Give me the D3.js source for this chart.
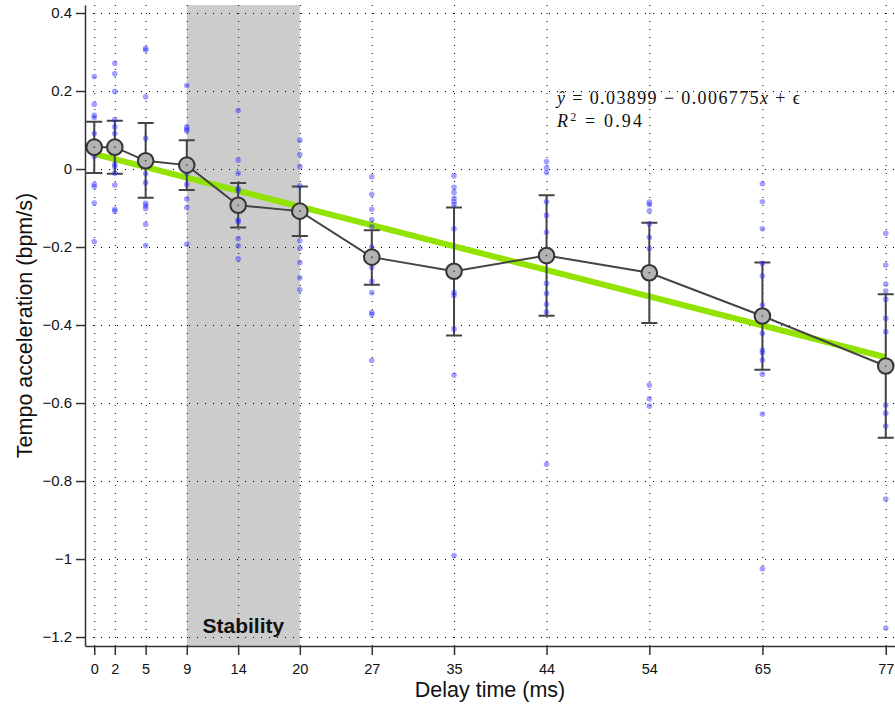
<!DOCTYPE html>
<html>
<head>
<meta charset="utf-8">
<script src="https://cdn.jsdelivr.net/npm/d3@7"></script>
<style>
  body { margin: 0; background: #fff; }
</style>
</head>
<body>
<div class="chart"></div>
<script>
// delay conditions (ms)
const delays = [0, 2, 5, 9, 14, 20, 27, 35, 44, 54, 65, 77];

// mean tempo acceleration per delay, with error bar ends
const meanAcc = [0.056, 0.056, 0.021, 0.010, -0.093, -0.108, -0.226, -0.262, -0.222, -0.266, -0.377, -0.505];
const errUpper = [0.121, 0.124, 0.118, 0.074, -0.036, -0.045, -0.157, -0.099, -0.067, -0.138, -0.240, -0.321];
const errLower = [-0.010, -0.012, -0.074, -0.054, -0.150, -0.172, -0.297, -0.427, -0.376, -0.395, -0.515, -0.689];

// single trials, one list per delay
const trialAcc = [
    [0.237, 0.166, 0.138, 0.132, 0.091, 0.032, -0.039, -0.045, -0.087, -0.186],
    [0.271, 0.244, 0.199, 0.127, 0.108, 0.091, 0.013, 0.006, -0.011, -0.041, -0.103, -0.108],
    [0.309, 0.305, 0.185, 0.079, -0.012, -0.035, -0.088, -0.094, -0.101, -0.142, -0.196],
    [0.214, 0.108, 0.102, 0.098, -0.011, -0.039, -0.077, -0.099, -0.193],
    [0.150, 0.023, -0.011, -0.050, -0.056, -0.131, -0.135, -0.178, -0.197, -0.230],
    [0.074, 0.037, 0.006, -0.043, -0.184, -0.203, -0.240, -0.279, -0.310],
    [-0.020, -0.065, -0.103, -0.130, -0.148, -0.200, -0.252, -0.288, -0.317, -0.368, -0.373, -0.491],
    [-0.017, -0.047, -0.060, -0.075, -0.084, -0.091, -0.153, -0.317, -0.324, -0.410, -0.528, -0.991],
    [0.019, 0.003, -0.009, -0.084, -0.119, -0.162, -0.293, -0.319, -0.347, -0.367, -0.757],
    [-0.085, -0.091, -0.107, -0.141, -0.175, -0.204, -0.554, -0.589, -0.608],
    [-0.038, -0.084, -0.153, -0.242, -0.274, -0.349, -0.421, -0.464, -0.471, -0.490, -0.526, -0.628, -1.025],
    [-0.165, -0.246, -0.295, -0.313, -0.334, -0.383, -0.417, -0.605, -0.626, -0.659, -0.846, -1.177]
];

const yTicks = [0.4, 0.2, 0, -0.2, -0.4, -0.6, -0.8, -1, -1.2];
const stabilityRange = [9, 20];
const fitIntercept = 0.03899;
const fitSlope = -0.006775;
const fitR2 = 0.94;

const sans = '"Liberation Sans", Arial, sans-serif';
const serif = '"Liberation Serif", "DejaVu Serif", serif';

const outerWidth = 895;
const outerHeight = 707;
const margin = {top: 5, right: 0, bottom: 61, left: 85};
const width = outerWidth - margin.left - margin.right;
const height = outerHeight - margin.top - margin.bottom;

const svg = d3.select('.chart').append('svg')
    .attr('width', outerWidth)
    .attr('height', outerHeight)
    .attr('font-family', sans)
    .append('g')
    .attr('transform', 'translate(' + margin.left + ',' + margin.top + ')');

const x = d3.scaleLinear().domain([-0.9, 77.9]).range([0, width]);
const y = d3.scaleLinear().domain([-1.223, 0.4205]).range([height, 0]);

// stability region
svg.append('rect')
    .attr('x', x(stabilityRange[0]))
    .attr('y', 0)
    .attr('width', x(stabilityRange[1]) - x(stabilityRange[0]))
    .attr('height', height)
    .attr('fill', '#cccccc');

// dotted grid
const grid = svg.append('g')
    .attr('stroke', '#000')
    .attr('stroke-width', 1)
    .attr('stroke-dasharray', '1,7');
grid.selectAll('.vg').data(delays).join('line')
    .attr('x1', d => x(d) + 0.5).attr('x2', d => x(d) + 0.5)
    .attr('y1', 0).attr('y2', height);
grid.selectAll('.hg').data(yTicks).join('line')
    .attr('x1', 0).attr('x2', width)
    .attr('y1', d => Math.round(y(d)) + 0.5).attr('y2', d => Math.round(y(d)) + 0.5);

// regression line
svg.append('line')
    .attr('x1', x(0)).attr('y1', y(fitIntercept))
    .attr('x2', x(77)).attr('y2', y(fitIntercept + fitSlope * 77))
    .attr('stroke', '#92e300')
    .attr('stroke-width', 6);

const summary = delays.map((d, i) => ({d: d, m: meanAcc[i], hi: errUpper[i], lo: errLower[i]}));

// error bars
const bars = svg.append('g').attr('stroke', '#444').attr('stroke-width', 2).attr('fill', 'none');
bars.selectAll('.eb').data(summary).join('path')
    .attr('d', s => {
        const cx = x(s.d), w = 8;
        return 'M' + cx + ',' + y(s.hi) + 'V' + y(s.lo)
            + 'M' + (cx - w) + ',' + y(s.hi) + 'H' + (cx + w)
            + 'M' + (cx - w) + ',' + y(s.lo) + 'H' + (cx + w);
    });

// single trials
const trials = [];
delays.forEach((d, i) => trialAcc[i].forEach(v => trials.push({d: d, v: v})));
svg.append('g').selectAll('circle').data(trials).join('circle')
    .attr('cx', t => x(t.d))
    .attr('cy', t => y(t.v))
    .attr('r', 2.8)
    .attr('fill', 'rgba(30,30,255,0.42)');

// mean line
svg.append('path')
    .datum(summary)
    .attr('fill', 'none')
    .attr('stroke', '#444')
    .attr('stroke-width', 2)
    .attr('d', d3.line().x(s => x(s.d)).y(s => y(s.m)));

svg.append('g').selectAll('circle').data(summary).join('circle')
    .attr('cx', s => x(s.d))
    .attr('cy', s => y(s.m))
    .attr('r', 7.8)
    .attr('fill', '#b3b3b3')
    .attr('stroke', '#333')
    .attr('stroke-width', 2);
svg.append('g').selectAll('circle').data(summary).join('circle')
    .attr('cx', s => x(s.d))
    .attr('cy', s => y(s.m))
    .attr('r', 0.8)
    .attr('fill', '#333');

// axes
const yAxis = svg.append('g')
    .call(d3.axisLeft(y).tickValues(yTicks).tickSize(9).tickSizeOuter(0).tickPadding(4)
        .tickFormat(d3.format('~g')));
const xAxis = svg.append('g')
    .attr('transform', 'translate(0,' + height + ')')
    .call(d3.axisBottom(x).tickValues(delays).tickSize(9).tickSizeOuter(0).tickPadding(9));
[xAxis, yAxis].forEach(a => {
    a.selectAll('path, line').attr('stroke', '#333').attr('stroke-width', 1.5);
    a.selectAll('text').attr('font-size', 14.5).attr('fill', '#111').attr('font-family', sans);
});
yAxis.selectAll('text').attr('font-size', 15);

// labels
svg.append('text')
    .attr('x', x((stabilityRange[0] + stabilityRange[1]) / 2))
    .attr('y', 628)
    .attr('text-anchor', 'middle')
    .attr('font-weight', 'bold')
    .attr('font-size', 21)
    .attr('fill', '#111')
    .text('Stability');

svg.append('text')
    .attr('x', width / 2)
    .attr('y', 692)
    .attr('text-anchor', 'middle')
    .attr('font-size', 21.5)
    .attr('fill', '#111')
    .text('Delay time (ms)');

svg.append('text')
    .attr('transform', 'translate(' + (-53) + ',' + (height / 2) + ') rotate(-90)')
    .attr('text-anchor', 'middle')
    .attr('font-size', 21.5)
    .attr('fill', '#111')
    .text('Tempo acceleration (bpm/s)');

// fit annotation
const note = svg.append('g')
    .attr('font-family', serif)
    .attr('font-size', 18)
    .attr('fill', '#111');
const line1 = note.append('text').attr('x', 472).attr('y', 99)
    .attr('textLength', 243).attr('lengthAdjust', 'spacing');
line1.append('tspan').attr('font-style', 'italic').text('ŷ');
line1.append('tspan').text(' = ' + fitIntercept + ' − ' + Math.abs(fitSlope));
line1.append('tspan').attr('font-style', 'italic').text('x');
line1.append('tspan').text(' + ϵ');
const line2 = note.append('text').attr('x', 472).attr('y', 122)
    .attr('textLength', 85).attr('lengthAdjust', 'spacing');
line2.append('tspan').attr('font-style', 'italic').text('R');
line2.append('tspan').attr('font-size', 12).attr('dy', -6).text('2');
line2.append('tspan').attr('dy', 6).text(' = ' + fitR2);
</script>
</body>
</html>
